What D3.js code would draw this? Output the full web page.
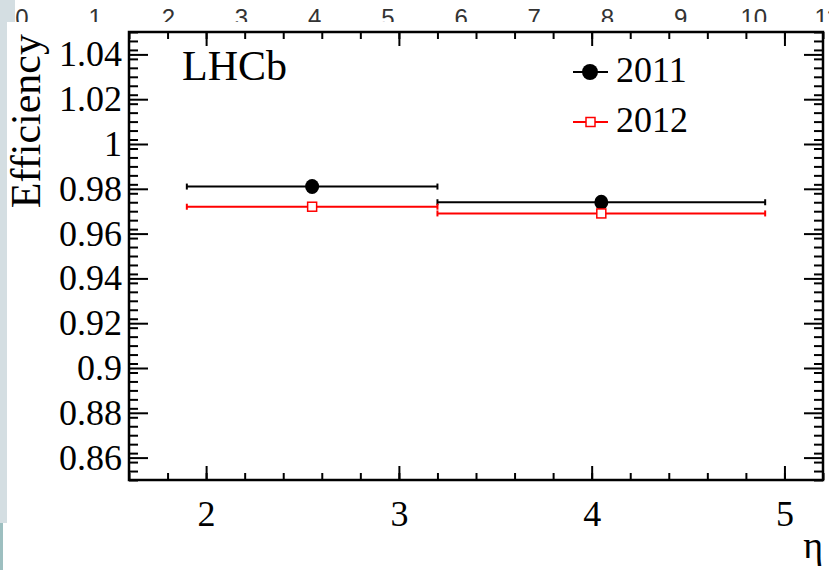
<!DOCTYPE html>
<html>
<head>
<meta charset="utf-8">
<script src="https://cdn.jsdelivr.net/npm/d3@7"></script>
<style>
  body { margin: 0; background: #fff; }
  svg { display: block; }
</style>
</head>
<body>
<svg id="chart" width="829" height="570"></svg>
<script>
const svg = d3.select("#chart");
const width = 829;
const height = 570;

// ---- DATA ---- //
const years = ["2011", "2012"];
const colors = ["#000000", "#ff0000"];
const binLow = [1.9, 3.2];
const binHigh = [3.2, 4.9];
const etaCenter = [[2.55, 4.05], [2.55, 4.05]];
const efficiency = [[0.981, 0.974], [0.972, 0.969]];

const xMajor = [2, 3, 4, 5];
const yMajor = [0.86, 0.88, 0.9, 0.92, 0.94, 0.96, 0.98, 1, 1.02, 1.04];
const topLabels = [0, 1, 2, 3, 4, 5, 6, 7, 8, 9, 10, 11];

const margin = { T: 32, B: 90, L: 129, R: 6 };

const font = "'Liberation Serif', 'Times New Roman', serif";

// ---- BACKGROUND BITS (screen capture edges) ---- //
const topScale = d3.scaleLinear().domain([0, 11]).range([22, 827]);

svg.append("g")
    .selectAll("text")
    .data(topLabels)
    .enter()
    .append("text")
        .attr("x", d => topScale(d))
        .attr("y", 26)
        .attr("text-anchor", "middle")
        .attr("font-family", "'Liberation Sans', Arial, sans-serif")
        .attr("font-size", 24)
        .attr("fill", "#333")
        .text(d => d);

svg.append("rect").attr("x", 0).attr("y", 0).attr("width", 15).attr("height", 22).attr("fill", "#d4dee2");
svg.append("rect").attr("x", 7).attr("y", 22).attr("width", width - 7).attr("height", height - 22).attr("fill", "#fff");
svg.append("rect").attr("x", 0).attr("y", 22).attr("width", 7).attr("height", 501).attr("fill", "#d4dee2");
svg.append("rect").attr("x", 0).attr("y", 523).attr("width", 3).attr("height", 47).attr("fill", "#9dbfc0");

// ---- SCALES ---- //
const xScale = d3.scaleLinear()
    .domain([1.6, 5.2])
    .range([margin.L, width - margin.R]);
const yScale = d3.scaleLinear()
    .domain([0.85, 1.05])
    .range([height - margin.B, margin.T]);

const xMinor = d3.range(16, 53, 2).map(v => v / 10);
const yMinor = d3.range(850, 1051, 4).map(v => v / 1000);

// ---- AXES ---- //
function drawAxis(axis, transform) {
    const g = svg.append("g")
        .attr("transform", transform)
        .call(axis);
    g.select(".domain").remove();
    g.selectAll("line").attr("stroke", "#000").attr("stroke-width", 2);
    g.selectAll("text")
        .attr("font-family", font)
        .attr("font-size", 36)
        .attr("fill", "#000");
    return g;
}

const bottomY = height - margin.B;
const rightX = width - margin.R;

// bottom
drawAxis(d3.axisBottom(xScale).tickValues(xMinor).tickSize(-7).tickFormat(""), `translate(0,${bottomY})`);
const xg = drawAxis(d3.axisBottom(xScale).tickValues(xMajor).tickSize(-14).tickPadding(20).tickFormat(d3.format("d")), `translate(0,${bottomY})`);
xg.selectAll("text").attr("dy", "0.71em");
// top
drawAxis(d3.axisTop(xScale).tickValues(xMinor).tickSize(-7).tickFormat(""), `translate(0,${margin.T})`);
drawAxis(d3.axisTop(xScale).tickValues(xMajor).tickSize(-14).tickFormat(""), `translate(0,${margin.T})`);
// left
drawAxis(d3.axisLeft(yScale).tickValues(yMinor).tickSize(-9).tickFormat(""), `translate(${margin.L},0)`);
drawAxis(d3.axisLeft(yScale).tickValues(yMajor).tickSize(-19).tickPadding(7).tickFormat(d3.format("")), `translate(${margin.L},0)`);
// right
drawAxis(d3.axisRight(yScale).tickValues(yMinor).tickSize(-9).tickFormat(""), `translate(${rightX},0)`);
drawAxis(d3.axisRight(yScale).tickValues(yMajor).tickSize(-19).tickFormat(""), `translate(${rightX},0)`);

// frame
svg.append("rect")
    .attr("x", margin.L)
    .attr("y", margin.T)
    .attr("width", rightX - margin.L)
    .attr("height", bottomY - margin.T)
    .attr("fill", "none")
    .attr("stroke", "#000")
    .attr("stroke-width", 2.5);

// axis titles
svg.append("text")
    .attr("transform", `translate(40,${margin.T + 2}) rotate(-90)`)
    .attr("text-anchor", "end")
    .attr("font-family", font)
    .attr("font-size", 42)
    .text("Efficiency");

svg.append("text")
    .attr("x", rightX)
    .attr("y", 558)
    .attr("text-anchor", "end")
    .attr("font-family", font)
    .attr("font-size", 38)
    .text("η");

svg.append("text")
    .attr("x", 182)
    .attr("y", 80)
    .attr("font-family", font)
    .attr("font-size", 42)
    .text("LHCb");

// ---- DATA ---- //
years.forEach((year, s) => {
    const pts = binLow.map((lo, i) => ({
        lo: lo,
        hi: binHigh[i],
        x: etaCenter[s][i],
        y: efficiency[s][i]
    }));
    const g = svg.append("g").attr("class", `series-${year}`);

    g.selectAll(".err")
        .data(pts)
        .enter()
        .append("line")
            .attr("x1", d => xScale(d.lo))
            .attr("x2", d => xScale(d.hi))
            .attr("y1", d => yScale(d.y))
            .attr("y2", d => yScale(d.y))
            .attr("stroke", colors[s])
            .attr("stroke-width", 2);

    // end caps
    g.selectAll(".cap")
        .data(pts.flatMap(d => [{ x: d.lo, y: d.y }, { x: d.hi, y: d.y }]))
        .enter()
        .append("line")
            .attr("x1", d => xScale(d.x))
            .attr("x2", d => xScale(d.x))
            .attr("y1", d => yScale(d.y) - 3)
            .attr("y2", d => yScale(d.y) + 3)
            .attr("stroke", colors[s])
            .attr("stroke-width", 2);

    if (s === 0) {
        g.selectAll("ellipse")
            .data(pts)
            .enter()
            .append("ellipse")
                .attr("cx", d => xScale(d.x))
                .attr("cy", d => yScale(d.y))
                .attr("rx", 7)
                .attr("ry", 7.5)
                .attr("fill", colors[s]);
    } else {
        g.selectAll("rect")
            .data(pts)
            .enter()
            .append("rect")
                .attr("x", d => xScale(d.x) - 4.5)
                .attr("y", d => yScale(d.y) - 4.5)
                .attr("width", 9)
                .attr("height", 9)
                .attr("fill", "#fff")
                .attr("stroke", colors[s])
                .attr("stroke-width", 1.5);
    }
});

// ---- LEGEND ---- //
const legend = svg.append("g");
years.forEach((year, s) => {
    const ly = 72 + s * 50;
    legend.append("line")
        .attr("x1", 573).attr("x2", 608)
        .attr("y1", ly).attr("y2", ly)
        .attr("stroke", colors[s])
        .attr("stroke-width", 2);
    if (s === 0) {
        legend.append("circle").attr("cx", 590).attr("cy", ly).attr("r", 8).attr("fill", colors[s]);
    } else {
        legend.append("rect")
            .attr("x", 586).attr("y", ly - 4.5)
            .attr("width", 9).attr("height", 9)
            .attr("fill", "#fff").attr("stroke", colors[s]).attr("stroke-width", 1.5);
    }
    legend.append("text")
        .attr("x", 616)
        .attr("y", ly + 10)
        .attr("font-family", font)
        .attr("font-size", 36)
        .text(year);
});
</script>
</body>
</html>
